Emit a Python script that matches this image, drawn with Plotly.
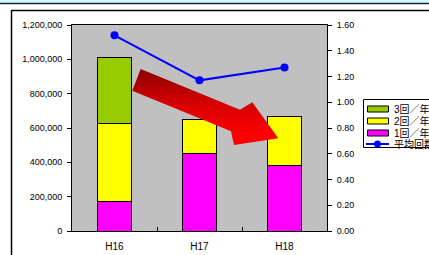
import plotly.graph_objects as go

# ---- data ----
categories = ["H16", "H17", "H18"]
once_per_year = [169000, 452000, 384000]     # 1回／年
twice_per_year = [458000, 199000, 282000]    # 2回／年
thrice_per_year = [385000, None, None]       # 3回／年
avg_count = [1.52, 1.17, 1.27]               # 平均回数
legend_labels = ["3回／年", "2回／年", "1回／年", "平均回数"]
left_ticks = [0, 200000, 400000, 600000, 800000, 1000000, 1200000]
right_ticks = [0, 0.2, 0.4, 0.6, 0.8, 1.0, 1.2, 1.4, 1.6]

W, H = 429, 255
L, R, T, B = 72, 102, 25, 24
PW, PH = W - L - R, H - T - B

def px(x):
    return (x - L) / PW

def py(y):
    return (H - B - y) / PH

FONT = "Arial, 'Liberation Sans', 'Noto Sans CJK JP', sans-serif"
C_GREEN, C_YELLOW, C_PINK, C_BLUE = "#99CC00", "#FFFF00", "#FF00FF", "#0000FF"

fig = go.Figure()
bar_line = dict(color="#000000", width=1)
fig.add_trace(go.Bar(x=categories, y=once_per_year, marker=dict(color=C_PINK, line=bar_line),
                     width=0.41, name=legend_labels[2], showlegend=False))
fig.add_trace(go.Bar(x=categories, y=twice_per_year, marker=dict(color=C_YELLOW, line=bar_line),
                     width=0.41, name=legend_labels[1], showlegend=False))
fig.add_trace(go.Bar(x=categories, y=thrice_per_year, marker=dict(color=C_GREEN, line=bar_line),
                     width=0.41, name=legend_labels[0], showlegend=False))
fig.add_trace(go.Scatter(x=categories, y=avg_count, yaxis="y2", mode="lines+markers",
                         line=dict(color=C_BLUE, width=2), marker=dict(color=C_BLUE, size=8),
                         name=legend_labels[3], showlegend=False))

# decorative red arrow (pixel coordinates on a hidden overlay axis)
arrow_x = [140.7, 240.0, 252.3, 278.3, 234.0, 231.0, 132.3, 140.7]
arrow_y = [69.0, 109.7, 102.3, 138.3, 145.0, 131.3, 90.7, 69.0]
fig.add_trace(go.Scatter(x=arrow_x, y=arrow_y, xaxis="x3", yaxis="y3", mode="lines",
                         fill="toself", line=dict(width=0, color="rgba(0,0,0,0)"),
                         fillgradient=dict(type="vertical", start=70, stop=135,
                                           colorscale=[[0, "#8B0000"], [0.5, "#D40000"], [1, "#FF0000"]]),
                         hoverinfo="skip", showlegend=False))

fig.update_layout(
    width=W, height=H, barmode="stack", bargap=0.59,
    margin=dict(l=L, r=R, t=T, b=B, autoexpand=False),
    paper_bgcolor="#FFFFFF", plot_bgcolor="#C0C0C0",
    font=dict(family=FONT, size=10, color="#000000"),
    showlegend=False,
    xaxis=dict(range=[-0.5, 2.5], showgrid=False, showline=True, linecolor="#000000", linewidth=1,
               mirror=True, ticks="inside", tickson="boundaries", ticklen=4, tickcolor="#000000",
               tickfont=dict(size=10), ticklabelstandoff=6),
    yaxis=dict(range=[0, 1200000], tickvals=left_ticks, tickformat=",", showgrid=False,
               showline=True, linecolor="#000000", linewidth=1, mirror=True, zeroline=False,
               ticks="outside", ticklen=4, tickcolor="#000000", tickfont=dict(size=9),
               ticklabelstandoff=3),
    yaxis2=dict(range=[0, 1.6], tickvals=right_ticks, tickformat=".2f", overlaying="y", side="right",
                showgrid=False, zeroline=False, showline=False, ticks="outside", ticklen=4,
                tickcolor="#000000", tickfont=dict(size=9), ticklabelstandoff=3),
    xaxis3=dict(range=[L, W - R], overlaying="x", visible=False),
    yaxis3=dict(range=[H - B, T], overlaying="y", visible=False),
)

shapes = []
# top cyan band and rule
shapes.append(dict(type="rect", xref="paper", yref="paper", x0=px(0), x1=px(W), y0=py(0), y1=py(3),
                   fillcolor="#CCFFFF", line=dict(width=0), layer="below"))
shapes.append(dict(type="line", xref="paper", yref="paper", x0=px(0), x1=px(W), y0=py(3.5), y1=py(3.5),
                   line=dict(color="#222233", width=1.5)))
# chart frame
shapes.append(dict(type="line", xref="paper", yref="paper", x0=px(11), x1=px(W + 5), y0=py(10.5), y1=py(10.5),
                   line=dict(color="#000000", width=1.5)))
shapes.append(dict(type="line", xref="paper", yref="paper", x0=px(11.5), x1=px(11.5), y0=py(10), y1=py(H + 5),
                   line=dict(color="#000000", width=1.5)))
# legend box
shapes.append(dict(type="rect", xref="paper", yref="paper", x0=px(363.5), x1=px(W + 10), y0=py(99.5), y1=py(147.5),
                   fillcolor="#FFFFFF", line=dict(color="#000000", width=1)))
row_y = [109, 121, 133, 144]
swatch_colors = [C_GREEN, C_YELLOW, C_PINK]
for i, col in enumerate(swatch_colors):
    shapes.append(dict(type="rect", xref="paper", yref="paper", x0=px(367.5), x1=px(388.5),
                       y0=py(row_y[i] - 3), y1=py(row_y[i] + 3),
                       fillcolor=col, line=dict(color="#000000", width=1)))
shapes.append(dict(type="line", xref="paper", yref="paper", x0=px(366), x1=px(389), y0=py(row_y[3]), y1=py(row_y[3]),
                   line=dict(color=C_BLUE, width=2)))
shapes.append(dict(type="circle", xref="paper", yref="paper", x0=px(374), x1=px(381),
                   y0=py(row_y[3] - 3.5), y1=py(row_y[3] + 3.5),
                   fillcolor=C_BLUE, line=dict(color=C_BLUE, width=0)))
fig.update_layout(shapes=shapes)

for i, lab in enumerate(legend_labels):
    fig.add_annotation(x=px(392), y=py(row_y[i]), xref="paper", yref="paper", text=lab,
                       showarrow=False, xanchor="left", yanchor="middle",
                       font=dict(size=10, family=FONT, color="#000000"))

fig.write_html("out.html", config={"displayModeBar": False},
               post_script="document.body.style.margin='0';document.body.style.overflow='hidden';")
